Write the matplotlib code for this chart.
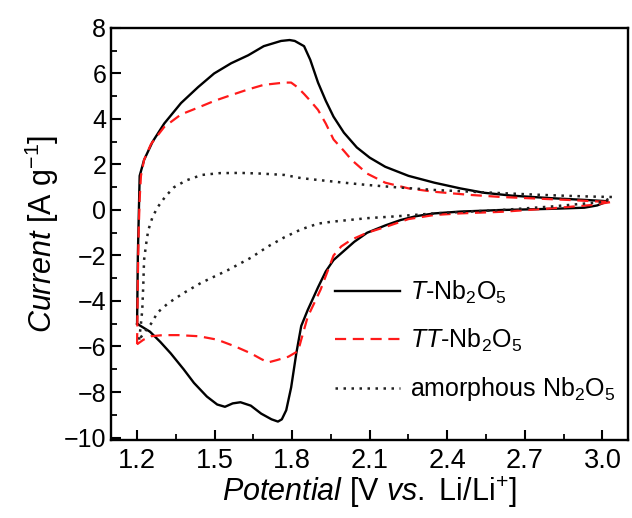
import matplotlib
matplotlib.use('Agg')
import matplotlib.pyplot as plt
from matplotlib.ticker import MultipleLocator

plt.rcParams['font.family'] = ['Liberation Sans', 'DejaVu Sans']
plt.rcParams['mathtext.fontset'] = 'custom'
plt.rcParams['mathtext.rm'] = 'Liberation Sans'
plt.rcParams['mathtext.it'] = 'Liberation Sans:italic'

# T-Nb2O5 cycle (potential V, current A/g)
t_x = [1.2, 1.203, 1.207, 1.21, 1.227, 1.26, 1.305, 1.37, 1.436, 1.498, 1.564, 1.63, 1.69, 1.757,
       1.79, 1.81, 1.846, 1.87, 1.90, 1.93, 1.96, 2.0, 2.05, 2.10, 2.16, 2.25, 2.35, 2.45, 2.54,
       2.65, 2.80, 2.92, 3.0, 3.02, 2.98, 2.93, 2.8, 2.61, 2.45, 2.35, 2.28, 2.22, 2.16, 2.09,
       2.04, 1.99, 1.96, 1.93, 1.90, 1.86, 1.835, 1.816, 1.796, 1.777, 1.76, 1.745, 1.72, 1.68,
       1.64, 1.60, 1.57, 1.54, 1.51, 1.47, 1.42, 1.38, 1.33, 1.29, 1.25, 1.2]
t_y = [-5.0, -2.0, 0.0, 1.5, 2.2, 3.0, 3.8, 4.7, 5.4, 6.0, 6.45, 6.8, 7.2, 7.43,
       7.47, 7.43, 7.2, 6.6, 5.6, 4.8, 4.1, 3.4, 2.75, 2.3, 1.9, 1.5, 1.2, 0.95, 0.76,
       0.63, 0.52, 0.45, 0.4, 0.38, 0.2, 0.1, 0.05, 0.0, -0.07, -0.15, -0.27, -0.44, -0.68, -1.0,
       -1.4, -1.9, -2.2, -2.7, -3.4, -4.4, -5.1, -6.3, -7.8, -8.8, -9.2, -9.3, -9.2, -8.95,
       -8.6, -8.45, -8.5, -8.65, -8.55, -8.2, -7.6, -7.0, -6.3, -5.8, -5.35, -5.0]

# TT-Nb2O5 cycle
tt_x = [1.2, 1.203, 1.206, 1.21, 1.215, 1.227, 1.254, 1.305, 1.37, 1.436, 1.50, 1.564, 1.63,
        1.69, 1.77, 1.796, 1.82, 1.846, 1.87, 1.90, 1.93, 1.96, 2.0, 2.03, 2.09, 2.16, 2.25, 2.35,
        2.48, 2.61, 2.75, 2.87, 2.97, 3.035, 2.96, 2.8, 2.61, 2.45, 2.35, 2.25, 2.16, 2.09, 2.03,
        1.99, 1.96, 1.91, 1.86, 1.835, 1.823, 1.785, 1.74, 1.707, 1.68, 1.64, 1.58, 1.51, 1.44,
        1.36, 1.30, 1.254, 1.225, 1.2]
tt_y = [-5.9, -3.0, -1.0, 0.5, 1.5, 2.2, 2.9, 3.65, 4.2, 4.5, 4.8, 5.05, 5.3,
        5.5, 5.6, 5.6, 5.4, 5.1, 4.8, 4.4, 3.8, 3.1, 2.6, 2.2, 1.6, 1.2, 0.95, 0.8,
        0.67, 0.57, 0.5, 0.44, 0.38, 0.35, 0.22, 0.07, -0.08, -0.15, -0.22, -0.4, -0.75, -1.0, -1.3,
        -1.6, -2.0, -3.5, -4.7, -5.7, -6.2, -6.45, -6.6, -6.7, -6.55, -6.3, -6.0, -5.7, -5.55,
        -5.5, -5.5, -5.55, -5.7, -5.9]

# amorphous Nb2O5 cycle
am_x = [1.208, 1.215, 1.22, 1.224, 1.227, 1.235, 1.243, 1.26, 1.28, 1.31, 1.343, 1.39, 1.45, 1.52,
        1.60, 1.68, 1.77, 1.835, 1.90, 2.0, 2.09, 2.2, 2.35, 2.5, 2.61, 2.75, 2.87, 2.96, 3.04,
        3.0, 2.8, 2.61, 2.45, 2.35, 2.2, 2.09, 1.95, 1.90, 1.835, 1.77, 1.707, 1.64, 1.55, 1.448,
        1.38, 1.32, 1.28, 1.254, 1.23, 1.208]
am_y = [-5.7, -5.0, -4.4, -3.3, -2.2, -1.5, -0.9, -0.3, 0.13, 0.6, 1.0, 1.3, 1.54, 1.62,
        1.63, 1.6, 1.54, 1.4, 1.32, 1.2, 1.1, 1.0, 0.88, 0.8, 0.74, 0.67, 0.62, 0.59, 0.57,
        0.35, 0.15, 0.0, -0.09, -0.15, -0.28, -0.36, -0.52, -0.6, -0.85, -1.2, -1.6, -2.1, -2.65, -3.2,
        -3.65, -4.1, -4.5, -5.0, -5.35, -5.7]

labels = [r'$\it{T}$-Nb$_2$O$_5$', r'$\it{TT}$-Nb$_2$O$_5$', r'amorphous Nb$_2$O$_5$']
xticks = [1.2, 1.5, 1.8, 2.1, 2.4, 2.7, 3.0]

fig = plt.figure(figsize=(6.32, 5.18), dpi=100)
ax = fig.add_axes([0.176, 0.151, 0.818, 0.795])

ax.plot(t_x, t_y, color='black', lw=1.7, label=labels[0])
ax.plot(tt_x, tt_y, color='#ff1a1a', lw=1.6, ls=(0, (5, 3)), label=labels[1])
ax.plot(am_x, am_y, color='#222222', lw=1.8, ls=(0, (1, 2.2)), label=labels[2])

ax.set_xlim(1.1, 3.1)
ax.set_ylim(-10.1, 8)
ax.set_xticks(xticks)
ax.set_xticklabels([f'{v:.1f}' for v in xticks])
ax.xaxis.set_minor_locator(MultipleLocator(0.15))
ax.yaxis.set_major_locator(MultipleLocator(2))
ax.yaxis.set_minor_locator(MultipleLocator(1))
ax.tick_params(which='major', direction='in', length=7, width=1.5, labelsize=18)
ax.tick_params(axis='x', which='major', labelsize=19.5, pad=6)
ax.tick_params(which='minor', direction='in', length=4, width=1.3)
for s in ax.spines.values():
    s.set_linewidth(1.7)

ax.set_xlabel(r'$\it{Potential}$ [V $\it{vs.}$ Li/Li$^{+}$]', fontsize=22, labelpad=0)
ax.set_ylabel(r'$\it{Current}$ [A g$^{-1}$]', fontsize=22, labelpad=2)

ax.legend(loc='lower right', bbox_to_anchor=(1.0, 0.058), frameon=False, fontsize=18,
          handlelength=2.6, handletextpad=0.4, labelspacing=0.85, borderaxespad=0.1)

fig.savefig('out.png', dpi=100)
